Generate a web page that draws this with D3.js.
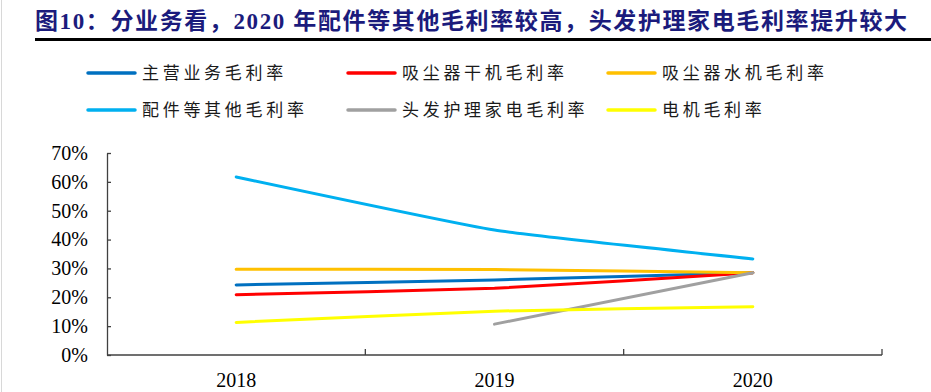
<!DOCTYPE html>
<html>
<head>
<meta charset="utf-8">
<script src="https://cdn.jsdelivr.net/npm/d3@7"></script>
<style>
  body { margin: 0; background: #fff; }
  svg { display: block; }
</style>
</head>
<body>
<svg class="chart"></svg>
<script>
// data
const years = ['2018', '2019', '2020'];
const seriesNames = ['主营业务毛利率', '吸尘器干机毛利率', '吸尘器水机毛利率',
  '配件等其他毛利率', '头发护理家电毛利率', '电机毛利率'];
const seriesColors = ['#0070C0', '#FF0000', '#FFC000', '#00B0F0', '#A0A0A0', '#FFFF00'];
const mainMargin = [0.243, 0.260, 0.285];
const dryMargin = [0.209, 0.231, 0.285];
const wetMargin = [0.297, 0.296, 0.285];
const partsMargin = [0.617, 0.433, 0.333];
const hairMargin = [null, 0.107, 0.285];
const motorMargin = [0.113, 0.152, 0.167];
const yTicks = [0, 0.1, 0.2, 0.3, 0.4, 0.5, 0.6, 0.7];
const title = '图10：分业务看，2020 年配件等其他毛利率较高，头发护理家电毛利率提升较大';

const seriesValues = [mainMargin, dryMargin, wetMargin, partsMargin, hairMargin, motorMargin];
const series = seriesNames.map((name, i) => ({
  name,
  color: seriesColors[i],
  values: seriesValues[i].map((v, j) => ({ year: years[j], v }))
}));

const width = 931;
const height = 392;
const margin = { top: 153, bottom: 37, left: 107, right: 49 };

const svg = d3.select('.chart')
  .attr('width', width)
  .attr('height', height);

// faint page border on the left
svg.append('line')
  .attr('x1', 1.5).attr('x2', 1.5)
  .attr('y1', 0).attr('y2', height)
  .attr('stroke', '#d8d8d8')
  .attr('stroke-width', 1);

// title + rule
svg.append('text')
  .attr('x', 35)
  .attr('y', 29)
  .attr('font-family', '"Liberation Serif", "Noto Sans CJK SC", serif')
  .attr('font-weight', 'bold')
  .attr('font-size', 23)
  .attr('fill', '#1b1b7c')
  .attr('textLength', 872)
  .attr('lengthAdjust', 'spacing')
  .text(title);

svg.append('line')
  .attr('x1', 35).attr('x2', width)
  .attr('y1', 39.5).attr('y2', 39.5)
  .attr('stroke', '#000')
  .attr('stroke-width', 3);

// legend
const legendCols = [88, 348, 608];
const legendRows = [73, 110];
const legend = svg.append('g')
  .selectAll('g')
  .data(series)
  .enter()
  .append('g')
  .attr('transform', (d, i) => `translate(${legendCols[i % 3]}, ${legendRows[Math.floor(i / 3)]})`);

legend.append('line')
  .attr('x1', 0).attr('x2', 47)
  .attr('y1', 0).attr('y2', 0)
  .attr('stroke', d => d.color)
  .attr('stroke-width', 3.5)
  .attr('stroke-linecap', 'round');

legend.append('text')
  .attr('x', 54)
  .attr('y', 0)
  .attr('dy', '0.36em')
  .attr('font-family', '"Noto Sans CJK SC", sans-serif')
  .attr('font-size', 17)
  .attr('letter-spacing', 3.7)
  .attr('fill', '#1a1a1a')
  .text(d => d.name);

// scales
const x = d3.scaleBand()
  .domain(years)
  .range([margin.left, width - margin.right]);
const y = d3.scaleLinear()
  .domain([0, 0.7])
  .range([height - margin.bottom, margin.top]);

const axisColor = '#404040';
const tickFont = '"Liberation Serif", "Times New Roman", serif';

// y axis, ticks pointing inward
const yAxis = svg.append('g')
  .attr('transform', `translate(${margin.left},0)`)
  .attr('font-family', tickFont)
  .call(d3.axisLeft(y).tickValues(yTicks).tickSizeInner(-4).tickSizeOuter(0)
    .tickPadding(19).tickFormat(d3.format('.0%')));
yAxis.attr('font-family', tickFont);
yAxis.select('.domain').attr('stroke', axisColor).attr('stroke-width', 1.3);
yAxis.selectAll('.tick line').attr('stroke', axisColor).attr('stroke-width', 1.3);
yAxis.selectAll('.tick text')
  .attr('font-family', tickFont)
  .attr('font-size', 20)
  .attr('fill', '#000');

// x axis, ticks between categories pointing up
const xAxisG = svg.append('g')
  .attr('transform', `translate(0,${height - margin.bottom})`);
xAxisG.append('line')
  .attr('x1', margin.left).attr('x2', width - margin.right)
  .attr('y1', 0).attr('y2', 0)
  .attr('stroke', axisColor)
  .attr('stroke-width', 1.3);
xAxisG.selectAll('.sep')
  .data(years.slice(1).concat(['end']))
  .enter()
  .append('line')
  .attr('class', 'sep')
  .attr('x1', (d, i) => i < years.length - 1 ? x(d) : x.range()[1])
  .attr('x2', (d, i) => i < years.length - 1 ? x(d) : x.range()[1])
  .attr('y1', 0).attr('y2', -6)
  .attr('stroke', axisColor)
  .attr('stroke-width', 1.3);
xAxisG.selectAll('.lbl')
  .data(years)
  .enter()
  .append('text')
  .attr('class', 'lbl')
  .attr('x', d => x(d) + x.bandwidth() / 2)
  .attr('y', 32)
  .attr('text-anchor', 'middle')
  .attr('font-family', tickFont)
  .attr('font-size', 20)
  .attr('fill', '#000')
  .text(d => d);

// lines, only lightly smoothed
const line = d3.line()
  .x(d => x(d.year) + x.bandwidth() / 2)
  .y(d => y(d.v))
  .curve(d3.curveCardinal.tension(0.6));

svg.append('g')
  .selectAll('path')
  .data(series)
  .enter()
  .append('path')
  .attr('d', d => line(d.values.filter(p => p.v !== null)))
  .attr('fill', 'none')
  .attr('stroke', d => d.color)
  .attr('stroke-width', 3)
  .attr('stroke-linecap', 'round')
  .attr('stroke-linejoin', 'round');
</script>
</body>
</html>
